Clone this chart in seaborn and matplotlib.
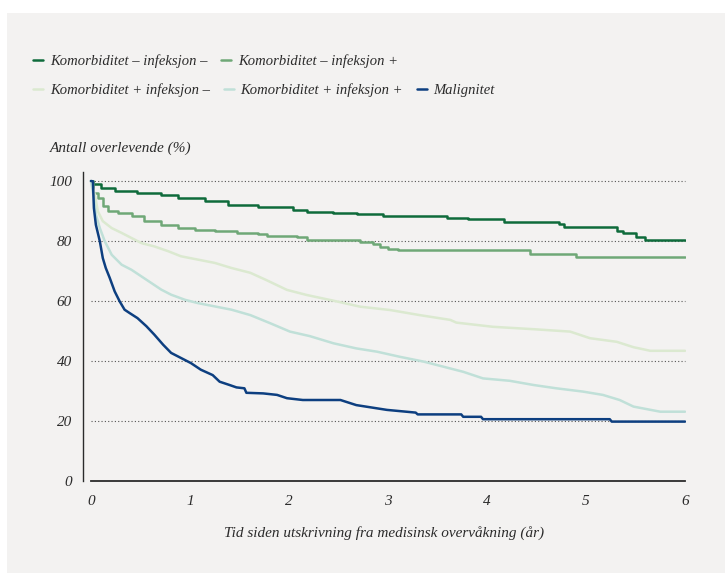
# Survival curves after discharge from medical monitoring
import pandas as pd
import numpy as np
import matplotlib
matplotlib.use('Agg')
import matplotlib.pyplot as plt
import seaborn as sns

# DATA
labels = ['Komorbiditet – infeksjon –', 'Komorbiditet – infeksjon +',
          'Komorbiditet + infeksjon –', 'Komorbiditet + infeksjon +', 'Malignitet']
colors = ['#0e6b3b', '#6fa877', '#dbe9d0', '#c0e0d8', '#0d3f80']

# years since discharge / percent surviving
dg_t = [0, 0.02, 0.10, 0.24, 0.47, 0.71, 0.88, 1.15, 1.38, 1.69, 2.04, 2.18, 2.44, 2.69, 2.95,
        3.6, 3.81, 4.17, 4.73, 4.78, 5.31, 5.37, 5.5, 5.6, 6.0]
dg_s = [100, 99, 97.7, 96.8, 96, 95.4, 94.3, 93.2, 92.1, 91.2, 90.3, 89.8, 89.4, 88.9, 88.3,
        87.6, 87.2, 86.3, 85.6, 84.8, 83.4, 82.8, 81.3, 80.2, 80.2]

mg_t = [0, 0.02, 0.07, 0.12, 0.17, 0.27, 0.41, 0.54, 0.71, 0.88, 1.05, 1.25, 1.48, 1.69, 1.78,
        2.08, 2.18, 2.72, 2.85, 2.92, 3.0, 3.1, 4.43, 4.9, 6.0]
mg_s = [100, 96, 94.3, 91.6, 89.9, 89.3, 88.2, 86.6, 85.4, 84.3, 83.8, 83.2, 82.7, 82.3, 81.7,
        81.2, 80.3, 79.8, 79.0, 78.0, 77.2, 77.0, 75.8, 74.6, 74.6]

pg_t = [0, 0.04, 0.07, 0.12, 0.21, 0.31, 0.41, 0.51, 0.64, 0.78, 0.91, 1.08, 1.25, 1.42, 1.61,
        1.77, 1.98, 2.18, 2.45, 2.72, 3.02, 3.32, 3.63, 3.69, 4.06, 4.47, 4.84, 5.04, 5.31, 5.48,
        5.65, 6.0]
pg_s = [100, 95.4, 89.9, 86.6, 84.3, 82.7, 81, 79.3, 78.2, 76.6, 74.9, 73.8, 72.7, 71, 69.4,
        67, 63.7, 62, 60.1, 58.1, 57, 55.3, 53.7, 52.8, 51.4, 50.6, 49.8, 47.6, 46.4, 44.6,
        43.4, 43.4]

teal_t = [0, 0.03, 0.05, 0.09, 0.14, 0.21, 0.31, 0.41, 0.51, 0.61, 0.71, 0.81, 0.95, 1.08, 1.25,
          1.42, 1.61, 1.81, 2.01, 2.21, 2.45, 2.68, 2.89, 3.12, 3.36, 3.56, 3.76, 3.96, 4.23,
          4.47, 4.70, 4.97, 5.17, 5.34, 5.48, 5.75, 6.0]
teal_s = [100, 94.3, 88.8, 84.3, 79.9, 75.4, 72.1, 70.4, 68.2, 66, 63.8, 62.1, 60.4, 59.3, 58.2,
          57.1, 55.3, 52.6, 49.8, 48.3, 45.9, 44.2, 43.1, 41.4, 39.8, 38.1, 36.4, 34.2, 33.4,
          32, 30.9, 29.8, 28.7, 27, 24.8, 23.1, 23.1]

blue_t = [0, 0.02, 0.03, 0.05, 0.09, 0.12, 0.15, 0.19, 0.24, 0.29, 0.34, 0.39, 0.47, 0.56, 0.64,
          0.73, 0.81, 0.91, 1.01, 1.11, 1.23, 1.30, 1.40, 1.47, 1.55, 1.57, 1.74, 1.88, 1.98,
          2.14, 2.52, 2.68, 2.99, 3.28, 3.30, 3.74, 3.76, 3.94, 3.96, 5.24, 5.26, 6.0]
blue_s = [100, 99.9, 91, 85.4, 79.9, 74.3, 71, 67.7, 63.2, 59.9, 57.1, 56, 54.3, 51.6, 48.8,
          45.4, 42.7, 41, 39.3, 37.1, 35.3, 33.1, 32, 31.2, 30.9, 29.4, 29.2, 28.7, 27.6,
          27, 27, 25.3, 23.7, 22.8, 22.2, 22.2, 21.4, 21.4, 20.6, 20.6, 19.8, 19.8]

x_ticks = [0, 1, 2, 3, 4, 5, 6]
y_ticks = [0, 20, 40, 60, 80, 100]

# long dataframe for seaborn
series = [(dg_t, dg_s), (mg_t, mg_s), (pg_t, pg_s), (teal_t, teal_s), (blue_t, blue_s)]
frames = []
for lab, (t, s) in zip(labels, series):
    frames.append(pd.DataFrame({'tid': t, 'overlevende': s, 'gruppe': lab}))
df = pd.concat(frames, ignore_index=True)
pal = dict(zip(labels, colors))

# STYLE
bg = '#f3f2f1'
ink = '#2b2b2b'
sns.set_style('white')
plt.rcParams['font.family'] = ['Liberation Serif', 'DejaVu Serif']
plt.rcParams['font.style'] = 'italic'

fig = plt.figure(figsize=(7.25, 5.73), dpi=100, facecolor='white')
fig.patches.append(plt.Rectangle((7 / 725, 0), 1, 1 - 13 / 573, transform=fig.transFigure,
                                 facecolor=bg, edgecolor='none', zorder=-10))
ax = fig.add_axes([83 / 725, 92 / 573, 603 / 725, 309 / 573])
ax.set_facecolor(bg)

# dotted grid lines from 0 to 6
ax.hlines(y_ticks[1:], 0, 6, colors='#555555', linestyles=(0, (1, 2)), linewidth=0.8, zorder=1)

# the two coarse curves as steps, the finely stepped ones as lines
coarse = labels[:2]
fine = labels[2:]
sns.lineplot(data=df[df['gruppe'].isin(coarse)], x='tid', y='overlevende', hue='gruppe',
             hue_order=coarse, palette=pal, drawstyle='steps-post', estimator=None,
             linewidth=1.8, ax=ax, legend=False, zorder=3)
sns.lineplot(data=df[df['gruppe'].isin(fine)], x='tid', y='overlevende', hue='gruppe',
             hue_order=fine, palette=pal, estimator=None, sort=False,
             linewidth=1.8, ax=ax, legend=False, zorder=3)

ax.set_xlim(-0.08, 6.01)
ax.set_ylim(0, 103)
ax.set_xticks(x_ticks)
ax.set_yticks(y_ticks)
ax.set_xticklabels([str(v) for v in x_ticks])
ax.set_yticklabels([str(v) for v in y_ticks])
ax.tick_params(length=0, labelsize=11, colors=ink)
ax.tick_params(axis='x', pad=10)
ax.tick_params(axis='y', pad=8)

for side in ['top', 'right']:
    ax.spines[side].set_visible(False)
ax.spines['left'].set_color(ink)
ax.spines['left'].set_linewidth(1.0)
ax.spines['bottom'].set_color(ink)
ax.spines['bottom'].set_linewidth(1.3)
ax.spines['bottom'].set_bounds(0, 6)

ax.set_xlabel('Tid siden utskrivning fra medisinsk overvåkning (år)', fontsize=11, color=ink,
              labelpad=13)
ax.set_ylabel('')
fig.text(50 / 725, 1 - 148 / 573, 'Antall overlevende (%)', fontsize=11, color=ink,
         ha='left', va='center')

# legend: two rows (2 items, then 3 items)
lines = ax.get_lines()[-5:]
leg_kw = dict(frameon=False, loc='center left', borderpad=0, borderaxespad=0,
              handlelength=0.7, handletextpad=0.45, columnspacing=0.95, fontsize=10.5,
              labelcolor=ink)
fig.legend(lines[:2], labels[:2], ncol=2, bbox_to_anchor=(33 / 725, 1 - 61 / 573), **leg_kw)
fig.legend(lines[2:], labels[2:], ncol=3, bbox_to_anchor=(33 / 725, 1 - 90 / 573), **leg_kw)

fig.savefig('out.png', dpi=100, facecolor='white')
